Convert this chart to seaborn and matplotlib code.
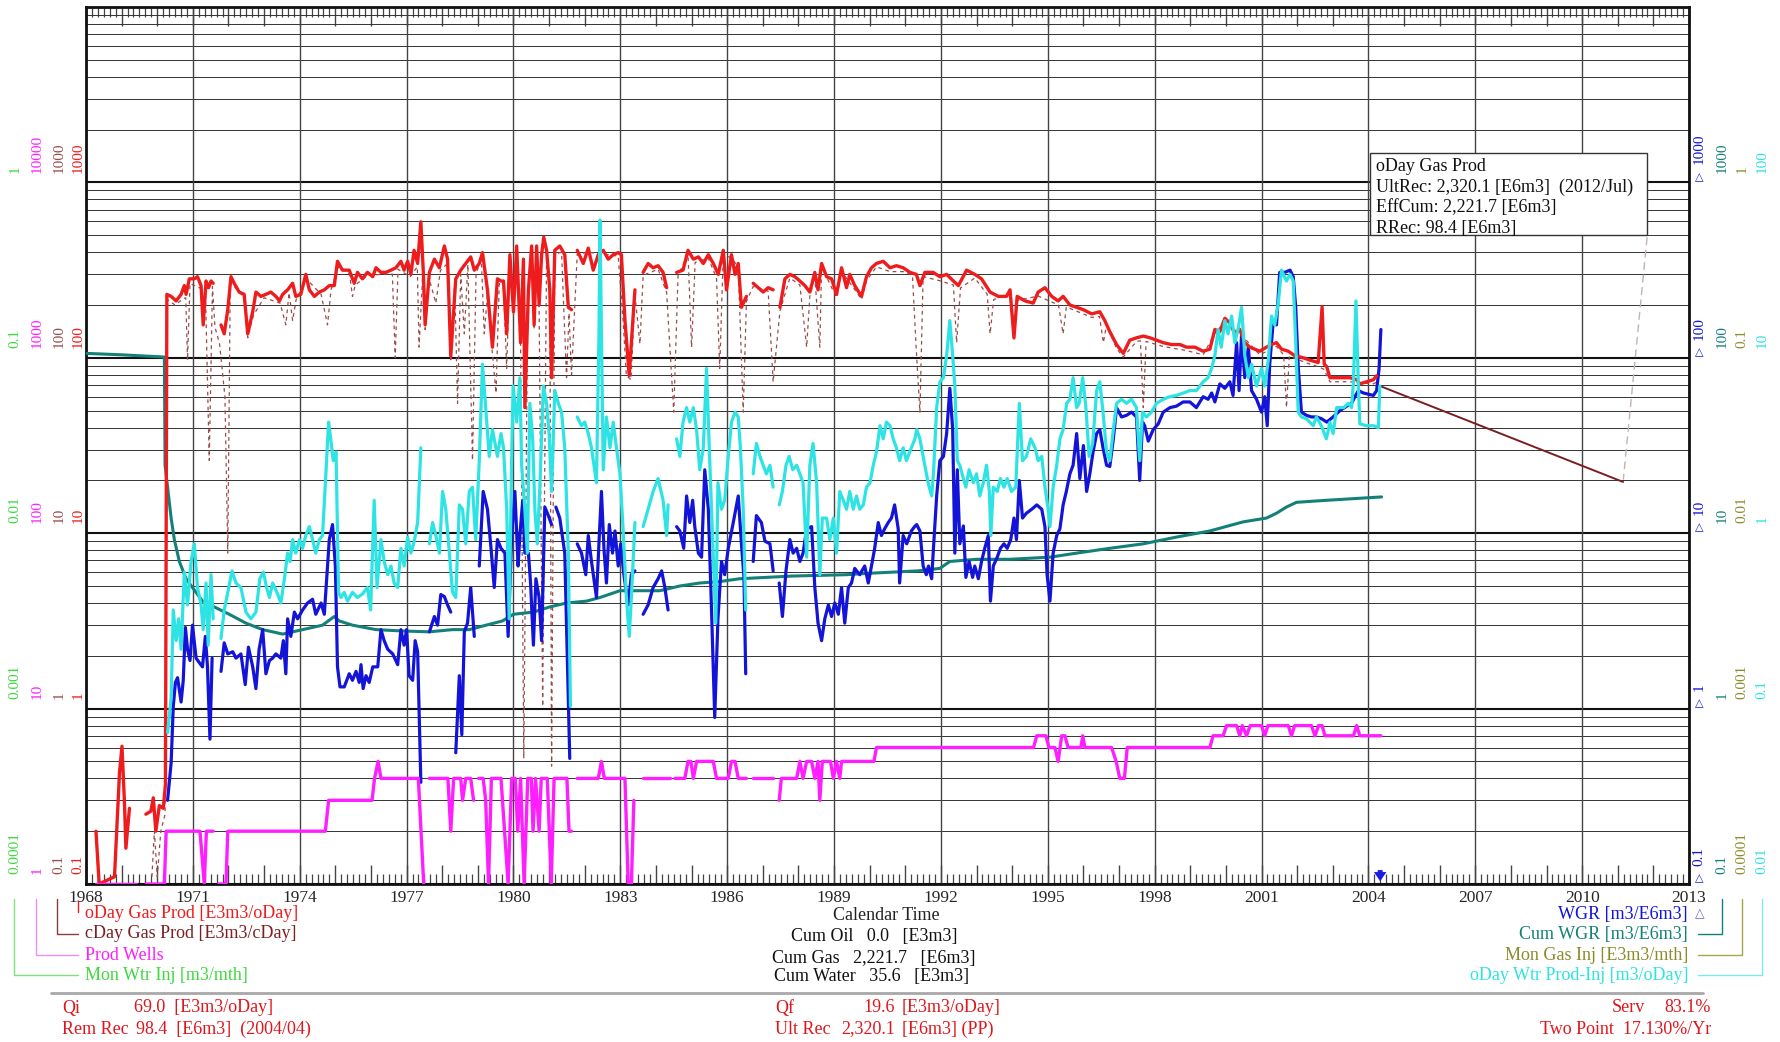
import numpy as np
import pandas as pd
import matplotlib
matplotlib.use("Agg")
import matplotlib.pyplot as plt
import matplotlib.ticker as mticker
import matplotlib.transforms as mtrans
from matplotlib.lines import Line2D
from matplotlib.patches import Rectangle
import seaborn as sns

sns.set_theme(style="white")
plt.rcParams["font.family"] = ["Liberation Serif", "DejaVu Sans"]

NaN = np.nan

# ---------------------------------------------------------------- data
# calendar-day gas rate [E3m3/oDay]; NaN marks months without production
oday_gas = [
    (1968.28, 0.20), (1968.37, 0.10), (1968.80, 0.11), (1968.94, 0.43), (1969.01, 0.61),
    (1969.08, 0.29), (1969.12, 0.16), (1969.22, 0.27), (1969.40, NaN),
    (1969.68, 0.25), (1969.82, 0.26), (1969.89, 0.31), (1969.96, 0.20), (1970.06, 0.28),
    (1970.17, 0.27), (1970.23, 0.37), (1970.27, 230), (1970.39, 224), (1970.53, 211),
    (1970.67, 230), (1970.76, 258), (1970.81, 230), (1970.90, 282), (1971.04, 282),
    (1971.13, 290), (1971.23, 258), (1971.29, 154), (1971.37, 274), (1971.44, 251),
    (1971.51, 274), (1971.57, 266), (1971.68, NaN),
    (1971.79, 154), (1971.88, 137), (1971.98, 188), (1972.07, 290), (1972.16, 266),
    (1972.30, 237), (1972.44, 230), (1972.54, 137), (1972.68, 183), (1972.77, 237),
    (1972.91, 224), (1973.05, 230), (1973.19, 237), (1973.33, 224), (1973.43, 211),
    (1973.52, 230), (1973.66, 244), (1973.80, 266), (1973.89, 224), (1974.03, 230),
    (1974.17, 299), (1974.27, 244), (1974.41, 224), (1974.55, 237), (1974.69, 244),
    (1974.83, 258), (1974.97, 258), (1975.06, 355), (1975.20, 316), (1975.39, 316),
    (1975.53, 266), (1975.62, 307), (1975.76, 282), (1975.90, 307), (1976.05, 290),
    (1976.14, 326), (1976.28, 307), (1976.42, 307), (1976.56, 316), (1976.70, 326),
    (1976.84, 355), (1976.93, 316), (1977.03, 355), (1977.12, 299), (1977.21, 410),
    (1977.31, 345), (1977.40, 596), (1977.47, 307), (1977.52, 154), (1977.64, 307),
    (1977.78, 365), (1977.92, 326), (1978.06, 434), (1978.15, 365), (1978.24, 102),
    (1978.38, 282), (1978.52, 316), (1978.66, 345), (1978.80, 376), (1978.90, 316),
    (1979.04, 345), (1979.13, 398), (1979.27, 244), (1979.41, 115), (1979.55, 282),
    (1979.65, 274), (1979.72, 274), (1979.81, 137), (1979.90, 387), (1980.00, 183),
    (1980.09, 434), (1980.20, 122), (1980.28, 365), (1980.32, 52), (1980.42, 244),
    (1980.51, 434), (1980.58, 154), (1980.65, 434), (1980.72, 200), (1980.79, 387),
    (1980.85, 487), (1980.93, 410), (1981.02, 244), (1981.07, 77), (1981.16, 410),
    (1981.30, 434), (1981.44, 387), (1981.54, 194), (1981.63, 188), (1981.71, NaN),
    (1981.79, 410), (1981.96, 345), (1982.10, 422), (1982.24, 316), (1982.38, 387),
    (1982.52, 410), (1982.66, 365), (1982.80, 387), (1982.94, 398), (1983.03, 387),
    (1983.13, 163), (1983.25, 79), (1983.36, 173), (1983.41, 244), (1983.52, NaN),
    (1983.64, 307), (1983.78, 345), (1983.92, 326), (1984.06, 335), (1984.20, 307),
    (1984.30, 251), (1984.44, NaN),
    (1984.58, 307), (1984.76, 316), (1984.90, 410), (1985.05, 365), (1985.19, 376),
    (1985.33, 345), (1985.47, 387), (1985.61, 345), (1985.75, 299), (1985.89, 410),
    (1985.98, 244), (1986.12, 387), (1986.22, 299), (1986.31, 345), (1986.40, 194),
    (1986.54, 224), (1986.63, NaN),
    (1986.73, 266), (1986.87, 251), (1987.01, 237), (1987.15, 251), (1987.29, 244),
    (1987.38, NaN),
    (1987.48, 194), (1987.62, 282), (1987.76, 299), (1987.90, 290), (1988.04, 274),
    (1988.18, 258), (1988.32, 237), (1988.46, 307), (1988.55, 244), (1988.65, 345),
    (1988.79, 290), (1988.93, 282), (1989.07, 230), (1989.21, 326), (1989.35, 251),
    (1989.44, 299), (1989.58, 258), (1989.77, 224), (1989.91, 290), (1990.05, 326),
    (1990.19, 345), (1990.38, 355), (1990.57, 326), (1990.75, 335), (1990.94, 326),
    (1991.13, 307), (1991.31, 299), (1991.41, 258), (1991.55, 307), (1991.78, 307),
    (1991.97, 290), (1992.16, 299), (1992.35, 274), (1992.49, 258), (1992.72, 316),
    (1992.95, 299), (1993.14, 282), (1993.38, 237), (1993.61, 224), (1993.84, 224),
    (1993.94, 244), (1994.05, 130), (1994.14, 224), (1994.36, 211), (1994.59, 205),
    (1994.73, 237), (1994.92, 251), (1995.11, 224), (1995.29, 211), (1995.43, 224),
    (1995.62, 200), (1995.81, 194), (1996.00, 188), (1996.23, 178), (1996.46, 183),
    (1996.60, 163), (1996.74, 141), (1996.93, 119), (1997.12, 106), (1997.30, 126),
    (1997.49, 130), (1997.68, 133), (1997.87, 130), (1998.05, 126), (1998.24, 122),
    (1998.47, 119), (1998.71, 119), (1998.89, 115), (1999.13, 115), (1999.36, 109),
    (1999.55, 112), (1999.69, 145), (1999.83, 141), (1999.97, 168), (2000.11, 158),
    (2000.25, 137), (2000.39, 145), (2000.53, 122), (2000.67, 115), (2000.81, 112),
    (2000.95, 109), (2001.14, 115), (2001.28, 119), (2001.42, 122), (2001.56, 112),
    (2001.75, 109), (2001.93, 103), (2002.17, 100), (2002.36, 97), (2002.59, 94),
    (2002.70, 195), (2002.76, 92), (2002.83, 89), (2002.92, 77), (2003.11, 77),
    (2003.30, 77), (2003.48, 77), (2003.67, 75), (2003.76, 71), (2003.95, 73),
    (2004.14, 75), (2004.23, 79),
]

# calendar-day gas rate [E3m3/cDay]
cday_gas = [
    (1969.85, 0.11), (1969.92, 0.20), (1970.00, 0.11), (1970.10, 0.20), (1970.22, 0.25),
    (1970.28, 215), (1970.50, 200), (1970.70, 215), (1970.80, 220), (1970.85, 97),
    (1970.92, 265), (1971.20, 250), (1971.35, 255), (1971.46, 26), (1971.55, 255),
    (1971.62, 150), (1971.75, 120), (1971.90, 60), (1971.98, 7.7), (1972.05, 270),
    (1972.45, 220), (1972.54, 130), (1972.70, 175), (1973.00, 220), (1973.45, 205),
    (1973.61, 154), (1973.70, 235), (1973.80, 163), (1973.90, 215), (1974.20, 280),
    (1974.60, 230), (1974.78, 154), (1974.88, 245), (1975.10, 335), (1975.40, 300),
    (1975.48, 224), (1975.56, 260), (1975.90, 295), (1976.40, 300), (1976.60, 300),
    (1976.68, 100), (1976.76, 320), (1977.10, 290), (1977.30, 330), (1977.35, 115),
    (1977.45, 295), (1977.52, 145), (1977.62, 290), (1977.82, 205), (1977.95, 315),
    (1978.15, 345), (1978.24, 95), (1978.35, 265), (1978.43, 55), (1978.52, 300),
    (1978.62, 137), (1978.72, 340), (1978.85, 26), (1978.95, 305), (1979.10, 360),
    (1979.18, 137), (1979.27, 230), (1979.41, 105), (1979.51, 63), (1979.60, 265),
    (1979.72, 255), (1979.81, 87), (1979.90, 365), (1980.00, 175), (1980.09, 410),
    (1980.20, 115), (1980.29, 0.52), (1980.40, 230), (1980.51, 410), (1980.58, 145),
    (1980.65, 400), (1980.72, 190), (1980.82, 1.03), (1980.93, 390), (1981.02, 230),
    (1981.07, 0.47), (1981.16, 390), (1981.35, 400), (1981.49, 77), (1981.56, 180),
    (1981.63, 80), (1981.79, 390), (1982.10, 400), (1982.50, 390), (1982.94, 380),
    (1983.08, 160), (1983.17, 79), (1983.30, 75), (1983.41, 230), (1983.55, 120),
    (1983.64, 295), (1984.06, 320), (1984.30, 235), (1984.50, 49), (1984.62, 295),
    (1984.90, 390), (1985.00, 115), (1985.10, 350), (1985.47, 370), (1985.70, 285),
    (1985.79, 87), (1985.89, 390), (1986.12, 370), (1986.31, 330), (1986.45, 49),
    (1986.54, 210), (1986.73, 255), (1987.15, 240), (1987.29, 73), (1987.48, 185),
    (1987.76, 285), (1988.04, 260), (1988.23, 115), (1988.32, 225), (1988.46, 290),
    (1988.60, 115), (1988.65, 330), (1989.07, 220), (1989.21, 310), (1989.58, 245),
    (1989.77, 215), (1989.91, 275), (1990.19, 330), (1990.57, 310), (1990.94, 310),
    (1991.20, 295), (1991.31, 109), (1991.41, 49), (1991.50, 290), (1991.97, 275),
    (1992.35, 260), (1992.44, 122), (1992.55, 250), (1992.95, 285), (1993.30, 230),
    (1993.38, 137), (1993.48, 215), (1993.94, 232), (1994.05, 125), (1994.14, 212),
    (1994.73, 225), (1995.30, 200), (1995.43, 137), (1995.52, 195), (1996.23, 170),
    (1996.45, 172), (1996.56, 122), (1996.65, 155), (1996.93, 113), (1997.12, 101),
    (1997.49, 124), (1997.60, 125), (1997.68, 52), (1997.76, 124), (1998.24, 116),
    (1998.89, 110), (1999.36, 104), (1999.69, 138), (1999.97, 160), (2000.39, 138),
    (2000.95, 104), (2001.42, 116), (2001.62, 104), (2001.70, 52), (2001.78, 102),
    (2002.36, 92), (2002.59, 89), (2002.75, 86), (2002.92, 73), (2003.48, 73),
    (2004.14, 71), (2004.30, 74),
]

# producing well count
prod_wells = [
    (1968.28, 1), (1969.40, 1), (1969.55, NaN), (1969.69, 1), (1970.20, 1), (1970.25, 2),
    (1971.20, 2), (1971.32, 1), (1971.38, 2), (1971.57, 2), (1971.66, NaN), (1971.73, 1),
    (1971.93, 1), (1971.98, 2), (1974.72, 2), (1974.81, 3), (1976.03, 3), (1976.10, 4),
    (1976.20, 5), (1976.28, 4), (1977.33, 4), (1977.48, 1), (1977.55, NaN), (1977.64, 4),
    (1978.16, 4), (1978.24, 2), (1978.32, 4), (1978.52, 4), (1978.57, 3), (1978.66, 4),
    (1978.80, 4), (1978.88, 3), (1978.94, NaN), (1979.02, 4), (1979.15, 4), (1979.22, 3),
    (1979.30, 1), (1979.38, 4), (1979.65, 4), (1979.85, 1), (1979.95, 4), (1980.05, 4),
    (1980.12, 2), (1980.20, 4), (1980.30, 1), (1980.40, 4), (1980.50, 4), (1980.55, 2),
    (1980.62, 4), (1980.72, 2), (1980.78, 4), (1980.95, 4), (1981.06, 1), (1981.14, 4),
    (1981.50, 4), (1981.56, 2), (1981.63, 2), (1981.71, NaN), (1981.79, 4), (1982.38, 4),
    (1982.47, 5), (1982.55, 4), (1983.13, 4), (1983.22, 1), (1983.31, 1), (1983.38, 3),
    (1983.50, NaN), (1983.64, 4), (1984.39, 4), (1984.46, NaN), (1984.53, 4), (1984.81, 4),
    (1984.90, 5), (1984.98, 5), (1985.05, 4), (1985.14, 5), (1985.61, 5), (1985.70, 4),
    (1986.03, 4), (1986.12, 5), (1986.22, 5), (1986.31, 4), (1986.54, 4), (1986.62, NaN),
    (1986.73, 4), (1987.29, 4), (1987.38, NaN), (1987.46, 3), (1987.52, 4), (1987.95, 4),
    (1988.04, 5), (1988.13, 4), (1988.23, 5), (1988.37, 5), (1988.46, 4), (1988.55, 5),
    (1988.60, 3), (1988.67, 5), (1988.90, 5), (1988.98, 4), (1989.07, 5), (1989.16, 4),
    (1989.21, 5), (1990.12, 5), (1990.19, 6), (1994.60, 6), (1994.69, 7), (1994.95, 7),
    (1995.03, 6), (1995.20, 6), (1995.29, 5), (1995.39, 7), (1995.48, 7), (1995.57, 6),
    (1995.93, 6), (1995.98, 7), (1996.04, 6), (1996.79, 6), (1996.92, 5), (1997.02, 4),
    (1997.15, 4), (1997.23, 6), (1999.55, 6), (1999.64, 7), (1999.92, 7), (2000.02, 8),
    (2000.30, 8), (2000.39, 7), (2000.46, 8), (2000.58, 7), (2000.68, 8), (2001.00, 8),
    (2001.09, 7), (2001.18, 8), (2001.75, 8), (2001.84, 7), (2001.93, 8), (2002.40, 8),
    (2002.50, 7), (2002.60, 8), (2002.70, 8), (2002.78, 7), (2003.58, 7), (2003.67, 8),
    (2003.76, 7), (2004.35, 7),
]

# water-gas ratio [m3/E6m3]
wgr = [
    (1970.29, 0.30), (1970.39, 0.49), (1970.45, 1.03), (1970.51, 1.41), (1970.57, 1.50),
    (1970.67, 1.09), (1970.73, 1.45), (1970.79, 2.9), (1970.85, 2.18), (1970.92, 1.88),
    (1970.99, 2.99), (1971.09, 1.94), (1971.18, 1.83), (1971.27, 1.73), (1971.35, 2.58),
    (1971.41, 1.73), (1971.48, 0.67), (1971.54, 1.94), (1971.66, NaN),
    (1971.79, 1.63), (1971.88, 2.37), (1971.98, 2.05), (1972.12, 2.11), (1972.21, 1.94),
    (1972.35, 2.05), (1972.47, 1.37), (1972.56, 2.24), (1972.68, 1.73), (1972.77, 1.30),
    (1972.86, 2.18), (1972.96, 2.82), (1973.05, 1.58), (1973.15, 1.88), (1973.24, 1.94),
    (1973.33, 2.05), (1973.47, 1.94), (1973.54, 2.44), (1973.61, 1.58), (1973.66, 3.25),
    (1973.75, 2.58), (1973.85, 3.55), (1973.94, 3.25), (1974.08, 3.65), (1974.22, 4.0),
    (1974.36, 4.2), (1974.45, 3.45), (1974.60, 4.0), (1974.69, 3.45), (1974.83, 9.2),
    (1974.92, 11.2), (1975.00, 6.5), (1975.06, 1.73), (1975.13, 1.33), (1975.25, 1.33),
    (1975.39, 1.58), (1975.48, 1.45), (1975.58, 1.63), (1975.67, 1.41), (1975.72, 1.78),
    (1975.78, 1.30), (1975.86, 1.54), (1975.95, 1.41), (1976.05, 1.73), (1976.19, 1.73),
    (1976.28, 2.82), (1976.37, 2.44), (1976.47, 2.18), (1976.61, 2.05), (1976.75, 1.78),
    (1976.84, 2.82), (1976.93, 2.30), (1977.00, 2.82), (1977.07, 1.54), (1977.17, 1.45),
    (1977.24, 2.44), (1977.31, 2.11), (1977.40, 0.38), (1977.52, NaN),
    (1977.64, 2.74), (1977.78, 3.35), (1977.87, 2.99), (1977.96, 4.47), (1978.06, 4.35),
    (1978.15, 3.9), (1978.24, 3.55), (1978.31, NaN),
    (1978.38, 0.56), (1978.48, 1.54), (1978.55, 0.71), (1978.62, 2.74), (1978.71, 3.07),
    (1978.80, 4.9), (1978.90, 2.58), (1978.97, NaN),
    (1979.04, 6.5), (1979.15, 17.3), (1979.27, 13.7), (1979.37, 8.2), (1979.46, 4.9),
    (1979.55, 9.2), (1979.65, 8.2), (1979.76, 7.7), (1979.85, 2.58), (1979.95, 9.7),
    (1980.04, 17.3), (1980.13, 6.5), (1980.18, 9.7), (1980.26, 15.4), (1980.32, 7.7),
    (1980.42, 7.7), (1980.48, 5.2), (1980.56, 2.3), (1980.63, 5.5), (1980.72, 4.3),
    (1980.79, 2.44), (1980.88, 14.1), (1980.98, 12.6), (1981.07, 11.2), (1981.13, NaN),
    (1981.19, 14.1), (1981.30, 12.2), (1981.44, 7.7), (1981.58, 0.52), (1981.68, NaN),
    (1981.79, 8.7), (1981.91, 7.7), (1982.03, 5.8), (1982.10, 9.7), (1982.19, 6.9),
    (1982.33, 4.3), (1982.41, 9.7), (1982.47, 17.3), (1982.54, 8.2), (1982.61, 5.2),
    (1982.69, 11.2), (1982.78, 7.7), (1982.85, 10.3), (1982.94, 6.5), (1983.01, 8.7),
    (1983.10, 5.8), (1983.22, 3.9), (1983.31, 5.8), (1983.41, 6.1), (1983.52, NaN),
    (1983.64, 3.45), (1983.78, 3.9), (1983.92, 4.9), (1984.06, 5.5), (1984.16, 6.1),
    (1984.25, 4.9), (1984.34, 3.65), (1984.46, NaN),
    (1984.58, 10.9), (1984.67, 10.3), (1984.78, 8.2), (1984.86, 16.3), (1984.95, 11.5),
    (1985.03, 15.4), (1985.09, 10.9), (1985.19, 7.7), (1985.28, 7.3), (1985.37, 23.0),
    (1985.47, 13.7), (1985.56, 3.65), (1985.65, 0.89), (1985.74, 3.25), (1985.84, 6.9),
    (1985.93, 5.8), (1986.03, 8.2), (1986.17, 11.5), (1986.31, 16.3), (1986.40, 8.7),
    (1986.47, 5.6), (1986.52, 1.58), (1986.62, NaN),
    (1986.73, 6.9), (1986.82, 12.6), (1986.96, 11.5), (1987.06, 9.0), (1987.20, 8.7),
    (1987.29, 6.1), (1987.38, NaN),
    (1987.46, 5.2), (1987.55, 3.35), (1987.65, 6.1), (1987.76, 9.2), (1987.85, 7.7),
    (1987.95, 8.2), (1988.04, 6.9), (1988.13, 7.7), (1988.23, 10.6), (1988.37, 10.9),
    (1988.46, 4.9), (1988.55, 3.07), (1988.65, 2.44), (1988.74, 3.25), (1988.84, 3.9),
    (1988.93, 3.35), (1989.02, 4.0), (1989.12, 3.45), (1989.21, 4.9), (1989.30, 3.07),
    (1989.40, 4.9), (1989.49, 5.2), (1989.58, 6.3), (1989.72, 5.8), (1989.86, 6.5),
    (1989.96, 5.2), (1990.05, 6.5), (1990.14, 8.2), (1990.24, 11.5), (1990.33, 9.7),
    (1990.42, 10.6), (1990.52, 11.5), (1990.61, 12.2), (1990.70, 14.5), (1990.80, 10.6),
    (1990.84, 5.2), (1990.94, 9.7), (1991.04, 8.7), (1991.17, 10.3), (1991.26, 10.9),
    (1991.32, 11.2), (1991.41, 10.3), (1991.50, 6.5), (1991.59, 5.8), (1991.65, 6.5),
    (1991.74, 5.5), (1991.79, 8.2), (1991.88, 16.3), (1991.97, 25.9), (1992.07, 27.4),
    (1992.16, 37), (1992.25, 67), (1992.33, 39), (1992.39, 7.7), (1992.46, 23),
    (1992.53, 8.7), (1992.63, 11.0), (1992.70, 5.6), (1992.79, 6.9), (1992.89, 5.6),
    (1992.95, 6.5), (1993.05, 5.5), (1993.14, 6.9), (1993.23, 8.2), (1993.33, 9.7),
    (1993.39, 4.1), (1993.47, 6.5), (1993.58, 7.3), (1993.67, 8.2), (1993.77, 8.7),
    (1993.86, 8.2), (1993.96, 9.2), (1994.05, 12.2), (1994.12, 9.2), (1994.20, 20),
    (1994.29, 12.2), (1994.40, 13.0), (1994.55, 13.7), (1994.69, 14.5), (1994.83, 13.7),
    (1994.92, 10.9), (1994.98, 5.8), (1995.06, 4.1), (1995.15, 7.7), (1995.25, 9.7),
    (1995.34, 10.6), (1995.43, 14.5), (1995.52, 17.3), (1995.62, 21.8), (1995.71, 24.4),
    (1995.81, 37), (1995.90, 20.5), (1996.00, 31.6), (1996.09, 17.3), (1996.18, 21.8),
    (1996.27, 29), (1996.37, 37), (1996.46, 39), (1996.55, 30.7), (1996.65, 24.4),
    (1996.74, 24), (1996.84, 34.5), (1996.93, 52), (1997.07, 46), (1997.21, 47),
    (1997.35, 49), (1997.49, 46), (1997.58, 20), (1997.66, 43), (1997.72, 41),
    (1997.82, 33.5), (1997.96, 39), (1998.10, 42), (1998.24, 49), (1998.43, 52),
    (1998.61, 53), (1998.80, 56), (1998.99, 56), (1999.17, 52), (1999.36, 60),
    (1999.50, 58), (1999.60, 63), (1999.69, 56), (1999.83, 71), (1999.97, 67),
    (2000.11, 73), (2000.20, 61), (2000.30, 122), (2000.37, 65), (2000.44, 137),
    (2000.53, 77), (2000.63, 115), (2000.72, 65), (2000.86, 58), (2001.00, 49),
    (2001.09, 60), (2001.16, 41), (2001.23, 92), (2001.33, 163), (2001.42, 154),
    (2001.51, 307), (2001.65, 307), (2001.80, 316), (2001.89, 290), (2001.96, 194),
    (2002.03, 89), (2002.12, 49), (2002.26, 47), (2002.40, 46), (2002.54, 46),
    (2002.68, 45), (2002.83, 43), (2003.01, 46), (2003.20, 50), (2003.39, 53),
    (2003.53, 55), (2003.62, 60), (2003.72, 65), (2003.86, 63), (2004.00, 62),
    (2004.14, 61), (2004.23, 65), (2004.30, 87), (2004.35, 145),
]

# cumulative water-gas ratio [m3/E6m3]
cum_wgr = [
    (1968.00, 106), (1969.00, 104), (1970.20, 101), (1970.22, 24.4), (1970.29, 18.3),
    (1970.39, 12.2), (1970.48, 9.2), (1970.62, 6.9), (1970.81, 5.5), (1970.99, 4.9),
    (1971.27, 4.1), (1971.60, 3.8), (1972.02, 3.45), (1972.49, 3.07), (1972.96, 2.82),
    (1973.52, 2.66), (1974.08, 2.82), (1974.64, 2.99), (1974.97, 3.35), (1975.11, 3.16),
    (1975.48, 2.99), (1976.14, 2.82), (1976.89, 2.77), (1977.64, 2.74), (1978.29, 2.82),
    (1978.76, 2.82), (1979.23, 2.99), (1979.69, 3.16), (1980.00, 3.45), (1980.56, 3.55),
    (1981.02, 3.8), (1981.49, 4.0), (1982.05, 4.1), (1982.43, 4.3), (1982.99, 4.7),
    (1983.55, 4.7), (1984.11, 4.7), (1984.67, 5.0), (1985.23, 5.2), (1985.79, 5.3),
    (1986.35, 5.5), (1987.10, 5.6), (1987.85, 5.7), (1988.60, 5.75), (1989.35, 5.8),
    (1989.91, 5.9), (1990.66, 6.0), (1991.36, 6.1), (1991.97, 6.3), (1992.25, 6.9),
    (1993.00, 7.1), (1993.94, 7.1), (1995.06, 7.3), (1995.81, 7.7), (1996.74, 8.2),
    (1997.68, 8.7), (1998.61, 9.5), (1999.55, 10.3), (2000.48, 11.6), (2001.14, 12.2),
    (2001.42, 13.0), (2001.70, 14.1), (2001.98, 15.0), (2002.82, 15.4), (2004.37, 16.1),
]

# calendar-day water production minus injection [m3/oDay]
wtr_prod_inj = [
    (1970.29, 0.073), (1970.39, 0.115), (1970.45, 0.365), (1970.53, 0.244), (1970.60, 0.325),
    (1970.67, 0.218), (1970.76, 0.60), (1970.85, 0.39), (1970.95, 0.69), (1971.04, 0.87),
    (1971.13, 0.49), (1971.23, 0.39), (1971.29, 0.282), (1971.37, 0.52), (1971.43, 0.23),
    (1971.51, 0.58), (1971.57, 0.325), (1971.66, NaN),
    (1971.79, 0.251), (1971.88, 0.365), (1971.98, 0.46), (1972.10, 0.61), (1972.21, 0.52),
    (1972.35, 0.49), (1972.49, 0.355), (1972.63, 0.325), (1972.77, 0.355), (1972.88, 0.55),
    (1972.98, 0.60), (1973.07, 0.49), (1973.15, 0.43), (1973.24, 0.52), (1973.38, 0.45),
    (1973.47, 0.40), (1973.57, 0.55), (1973.66, 0.77), (1973.73, 0.69), (1973.80, 0.92),
    (1973.89, 0.77), (1973.99, 0.92), (1974.08, 0.82), (1974.17, 0.97), (1974.27, 1.09),
    (1974.36, 0.92), (1974.45, 0.77), (1974.55, 0.92), (1974.64, 0.97), (1974.74, 2.3),
    (1974.81, 4.3), (1974.87, 3.45), (1974.94, 2.59), (1975.02, 2.9), (1975.09, 0.46),
    (1975.16, 0.43), (1975.25, 0.46), (1975.34, 0.41), (1975.48, 0.46), (1975.62, 0.43),
    (1975.76, 0.45), (1975.90, 0.49), (1975.99, 0.365), (1976.09, 1.54), (1976.17, 0.49),
    (1976.28, 0.92), (1976.37, 0.69), (1976.47, 0.58), (1976.56, 0.65), (1976.65, 0.52),
    (1976.75, 0.49), (1976.84, 0.82), (1976.93, 0.65), (1977.03, 0.95), (1977.12, 0.77),
    (1977.21, 0.89), (1977.31, 1.15), (1977.40, 3.07), (1977.52, NaN),
    (1977.64, 0.87), (1977.73, 1.15), (1977.82, 0.97), (1977.92, 0.77), (1978.01, 1.73),
    (1978.10, 1.37), (1978.20, 0.77), (1978.29, 0.46), (1978.38, 0.43), (1978.48, 1.45),
    (1978.57, 1.37), (1978.66, 0.87), (1978.76, 1.73), (1978.85, 1.83), (1978.94, 0.92),
    (1979.04, 2.59), (1979.13, 9.2), (1979.22, 5.2), (1979.32, 2.74), (1979.41, 3.9),
    (1979.55, 2.74), (1979.65, 3.7), (1979.72, 3.07), (1979.81, 1.37), (1979.88, 0.325),
    (1979.95, 2.74), (1979.99, 6.9), (1980.09, 4.3), (1980.18, 7.7), (1980.23, 2.44),
    (1980.32, 1.37), (1980.39, 0.77), (1980.46, 5.5), (1980.54, 3.45), (1980.60, 1.37),
    (1980.67, 0.87), (1980.74, 1.83), (1980.84, 6.9), (1980.93, 5.5), (1981.00, 3.7),
    (1981.07, 1.73), (1981.16, 6.5), (1981.26, 5.5), (1981.35, 4.9), (1981.44, 3.07),
    (1981.54, 0.77), (1981.60, 0.103), (1981.70, NaN),
    (1981.79, 4.6), (1981.91, 4.1), (1982.00, 4.3), (1982.10, 3.7), (1982.19, 3.07),
    (1982.33, 1.94), (1982.40, 13.7), (1982.43, 61), (1982.47, 13.7), (1982.52, 2.3),
    (1982.61, 4.6), (1982.71, 3.07), (1982.80, 4.3), (1982.89, 3.07), (1982.99, 2.18),
    (1983.08, 1.03), (1983.17, 0.43), (1983.25, 0.258), (1983.31, 0.43), (1983.41, 1.15),
    (1983.52, NaN),
    (1983.64, 1.09), (1983.78, 1.37), (1983.92, 1.73), (1984.06, 2.05), (1984.20, 1.54),
    (1984.30, 0.97), (1984.34, 1.45), (1984.46, NaN),
    (1984.58, 3.45), (1984.67, 2.74), (1984.76, 4.3), (1984.86, 5.2), (1984.95, 4.3),
    (1985.05, 5.2), (1985.14, 3.9), (1985.23, 2.3), (1985.33, 3.07), (1985.42, 8.7),
    (1985.51, 2.59), (1985.61, 0.73), (1985.68, 0.307), (1985.74, 1.94), (1985.84, 1.37),
    (1985.93, 1.54), (1986.03, 2.74), (1986.12, 4.3), (1986.22, 4.9), (1986.31, 4.6),
    (1986.37, 3.07), (1986.45, 1.37), (1986.52, 0.365), (1986.62, NaN),
    (1986.73, 2.18), (1986.82, 3.25), (1986.92, 2.74), (1987.01, 2.44), (1987.10, 2.18),
    (1987.20, 2.44), (1987.29, 1.83), (1987.38, NaN),
    (1987.46, 1.45), (1987.55, 1.73), (1987.65, 2.44), (1987.74, 2.74), (1987.84, 2.3),
    (1987.95, 2.44), (1988.04, 2.18), (1988.13, 1.94), (1988.23, 0.73), (1988.32, 2.44),
    (1988.41, 3.25), (1988.51, 1.94), (1988.60, 0.58), (1988.67, 1.22), (1988.79, 1.22),
    (1988.88, 0.92), (1988.98, 1.22), (1989.07, 0.77), (1989.16, 1.73), (1989.26, 1.54),
    (1989.35, 1.37), (1989.44, 1.73), (1989.54, 1.37), (1989.63, 1.63), (1989.72, 1.37),
    (1989.82, 1.45), (1989.91, 1.83), (1990.01, 1.94), (1990.10, 2.44), (1990.19, 2.9),
    (1990.29, 4.1), (1990.38, 3.45), (1990.47, 4.3), (1990.57, 4.1), (1990.66, 3.45),
    (1990.75, 3.07), (1990.84, 2.59), (1990.94, 3.07), (1991.03, 2.59), (1991.17, 3.07),
    (1991.27, 3.45), (1991.32, 3.9), (1991.41, 3.45), (1991.50, 2.74), (1991.64, 1.94),
    (1991.74, 1.63), (1991.79, 2.18), (1991.88, 5.2), (1991.97, 7.3), (1992.07, 7.7),
    (1992.16, 10.3), (1992.25, 16.3), (1992.33, 10.3), (1992.39, 6.9), (1992.46, 2.59),
    (1992.53, 2.44), (1992.63, 2.05), (1992.70, 1.83), (1992.79, 2.3), (1992.91, 1.94),
    (1993.00, 2.18), (1993.09, 1.63), (1993.19, 1.94), (1993.28, 2.44), (1993.36, 1.73),
    (1993.40, 0.97), (1993.47, 1.83), (1993.58, 1.73), (1993.67, 2.05), (1993.77, 1.83),
    (1993.86, 2.05), (1993.98, 1.73), (1994.10, 1.83), (1994.20, 5.5), (1994.29, 2.59),
    (1994.40, 2.74), (1994.52, 3.45), (1994.64, 3.07), (1994.73, 2.59), (1994.83, 2.74),
    (1994.92, 1.83), (1995.01, 1.37), (1995.06, 1.09), (1995.15, 1.83), (1995.25, 2.44),
    (1995.34, 3.45), (1995.43, 3.9), (1995.53, 5.5), (1995.62, 5.8), (1995.71, 7.7),
    (1995.81, 5.2), (1995.88, 5.5), (1995.98, 7.7), (1996.07, 5.2), (1996.16, 2.74),
    (1996.26, 3.25), (1996.37, 6.5), (1996.46, 7.3), (1996.55, 4.9), (1996.65, 2.9),
    (1996.74, 2.59), (1996.84, 3.9), (1996.93, 5.5), (1997.07, 5.8), (1997.21, 5.5),
    (1997.35, 5.8), (1997.49, 5.2), (1997.58, 2.59), (1997.66, 4.9), (1997.77, 4.6),
    (1997.91, 4.9), (1998.05, 5.5), (1998.24, 5.8), (1998.43, 6.0), (1998.61, 6.1),
    (1998.80, 6.3), (1998.99, 6.5), (1999.17, 6.5), (1999.36, 7.3), (1999.50, 7.7),
    (1999.60, 8.7), (1999.69, 10.3), (1999.78, 14.5), (1999.87, 11.5), (1999.97, 16.3),
    (2000.06, 13.7), (2000.16, 17.3), (2000.25, 12.2), (2000.34, 14.5), (2000.44, 19.4),
    (2000.53, 10.3), (2000.63, 7.7), (2000.72, 9.2), (2000.86, 6.9), (2001.00, 8.7),
    (2001.09, 6.9), (2001.19, 9.7), (2001.28, 17.3), (2001.37, 15.4), (2001.47, 20.5),
    (2001.56, 31.6), (2001.70, 27.4), (2001.80, 29.9), (2001.89, 27.4), (2001.96, 12.2),
    (2002.03, 4.9), (2002.12, 4.6), (2002.26, 4.5), (2002.35, 4.3), (2002.45, 4.1),
    (2002.54, 4.6), (2002.68, 4.1), (2002.82, 3.45), (2002.92, 4.3), (2003.01, 3.7),
    (2003.11, 5.2), (2003.30, 5.2), (2003.44, 5.5), (2003.53, 5.2), (2003.58, 7.3),
    (2003.65, 21.1), (2003.72, 6.9), (2003.76, 4.2), (2003.95, 4.1), (2004.14, 4.1),
    (2004.28, 4.0), (2004.32, 6.9),
]

# decline forecast: (date, rate) at Qi and Qf
forecast = [(2004.33, 69.0), (2011.15, 19.6)]

# value labels on the decade lines, outermost column first
decade_lines = [1000, 100, 10, 1, 0.1]
lbl_mon_wtr_inj = ["1", "0.1", "0.01", "0.001", "0.0001"]
lbl_prod_wells = ["10000", "1000", "100", "10", "1"]
lbl_cday_gas = ["1000", "100", "10", "1", "0.1"]
lbl_oday_gas = ["1000", "100", "10", "1", "0.1"]
lbl_wgr = ["1000", "100", "10", "1", "0.1"]
lbl_cum_wgr = ["1000", "100", "10", "1", "0.1"]
lbl_mon_gas_inj = ["1", "0.1", "0.01", "0.001", "0.0001"]
lbl_wtr_prod_inj = ["100", "10", "1", "0.1", "0.01"]
year_ticks = list(range(1968, 2014))

# ---------------------------------------------------------------- colours
C_RED = "#ee1c1c"
C_CDAY = "#9a4c4c"
C_FC = "#7a1f1f"
C_MAG = "#ff1eff"
C_GREEN = "#3fd93f"
C_BLUE = "#1414d8"
C_TEAL = "#13807a"
C_OLIVE = "#8c8c2c"
C_CYAN = "#2ee3e3"

W, H = 1780, 1042


def fx(x):
    return x / W


def fy(y):
    return 1 - y / H


def frame_of(pairs):
    t = np.array([p[0] for p in pairs], float)
    v = np.array([p[1] for p in pairs], float)
    seg = np.cumsum(np.isnan(v))
    df = pd.DataFrame({"t": t, "v": v, "seg": seg})
    return df.dropna()


def draw(axis, pairs, color, lw, **kw):
    sns.lineplot(data=frame_of(pairs), x="t", y="v", units="seg", estimator=None,
                 sort=False, color=color, lw=lw, ax=axis, legend=False, **kw)


fig = plt.figure(figsize=(W / 100, H / 100), dpi=100)
L, R, T, B = 86, 1689, 7, 884
ax = fig.add_axes([fx(L), fy(B), (R - L) / W, (B - T) / H])
ax.set_yscale("log")
ax.set_ylim(0.1, 10000)

ax_w = ax.twinx()      # well count scale
ax_w.set_yscale("log")
ax_w.set_ylim(1, 100000)
ax_c = ax.twinx()      # water prod-inj scale
ax_c.set_yscale("log")
ax_c.set_ylim(0.01, 1000)
for a in (ax_w, ax_c):
    a.axis("off")

# grid
ax.set_axisbelow(True)
ax.yaxis.set_major_locator(mticker.LogLocator(base=10, numticks=12))
ax.yaxis.set_minor_locator(mticker.LogLocator(base=10, subs=np.arange(2, 10), numticks=100))
ax.yaxis.grid(True, which="major", color="#111111", lw=1.5)
ax.yaxis.grid(True, which="minor", color="#333333", lw=0.7)
ax.tick_params(axis="y", which="both", length=0, labelleft=False, labelright=False)
for yr in year_ticks[::3]:
    ax.axvline(yr, color="#444444", lw=1.0, zorder=0.6)

# series
draw(ax, cday_gas, C_CDAY, 0.9, linestyle=(0, (3, 3)), zorder=2)
draw(ax, cum_wgr, C_TEAL, 2.2, zorder=3)
draw(ax, wgr, C_BLUE, 2.3, zorder=4)
draw(ax, oday_gas, C_RED, 2.4, zorder=5)
draw(ax, forecast, C_FC, 1.4, zorder=5)
draw(ax_c, wtr_prod_inj, C_CYAN, 2.3, zorder=3)
draw(ax_w, prod_wells, C_MAG, 2.4, zorder=3)

for a in (ax, ax_w, ax_c):
    a.set_xlabel("")
    a.set_ylabel("")
ax.set_xlim(1968, 2013)

# x ticks: yearly, 2-month minor, labels every third year
ax.xaxis.set_major_locator(mticker.FixedLocator(year_ticks))
ax.xaxis.set_minor_locator(mticker.MultipleLocator(1 / 6))
ax.xaxis.set_major_formatter(mticker.FuncFormatter(
    lambda x, p: f"{int(round(x))}" if int(round(x - 1968)) % 3 == 0 else ""))
ax.tick_params(axis="x", which="major", direction="in", length=14, width=1.0,
               color="#444444", top=True, bottom=True, labelsize=12.5, pad=4)
ax.tick_params(axis="x", which="minor", direction="in", length=7, width=0.9,
               color="#444444", top=True, bottom=True)
for sp in ax.spines.values():
    sp.set_color("#111111")
    sp.set_linewidth(2.0)

# forecast annotation box and leader
box_x0, box_x1, box_y0, box_y1 = 0.801, 0.974, 0.740, 0.8335
ax.add_patch(Rectangle((box_x0, box_y0), box_x1 - box_x0, box_y1 - box_y0,
                       transform=ax.transAxes, facecolor="white", edgecolor="#333333",
                       lw=1.0, zorder=8))
box_lines = ["oDay Gas Prod", "UltRec: 2,320.1 [E6m3]  (2012/Jul)",
             "EffCum: 2,221.7 [E6m3]", "RRec: 98.4 [E6m3]"]
for i, s in enumerate(box_lines):
    ax.text(0.805, 0.8176 - i * 0.0232, s, transform=ax.transAxes, fontsize=13,
            color="#111111", va="center", ha="left", zorder=9)
ax.annotate("", xy=forecast[-1], xycoords="data", xytext=(box_x1, box_y0),
            textcoords="axes fraction",
            arrowprops=dict(arrowstyle="-", color="#c0b4b4", lw=1.0, ls=(0, (5, 4))),
            zorder=6)
ax.annotate("", xy=(forecast[0][0], 0.0), xycoords=("data", "axes fraction"),
            xytext=(forecast[0][0], 0.019), textcoords=("data", "axes fraction"),
            arrowprops=dict(arrowstyle="simple,head_length=0.55,head_width=0.75,tail_width=0.3",
                            color="#1a1ae6", lw=0), zorder=9, annotation_clip=False)

# decade value columns
lab_tr = mtrans.blended_transform_factory(fig.transFigure, ax.transData)
up8 = mtrans.ScaledTranslation(0, 7 / 72, fig.dpi_scale_trans)
up14 = mtrans.ScaledTranslation(0, 13 / 72, fig.dpi_scale_trans)
up3 = mtrans.ScaledTranslation(0, 4 / 72, fig.dpi_scale_trans)
columns = [
    (15, C_GREEN, lbl_mon_wtr_inj, up8),
    (37, C_MAG, lbl_prod_wells, up8),
    (59, C_CDAY, lbl_cday_gas, up8),
    (78, C_RED, lbl_oday_gas, up8),
    (1699, C_BLUE, lbl_wgr, up14),
    (1722, C_TEAL, lbl_cum_wgr, up8),
    (1742, C_OLIVE, lbl_mon_gas_inj, up8),
    (1762, C_CYAN, lbl_wtr_prod_inj, up8),
]
for xpix, col, labels, off in columns:
    for dec, s in zip(decade_lines, labels):
        ax.text(fx(xpix), dec, s, transform=lab_tr + off, rotation=90,
                rotation_mode="anchor", ha="left", va="center", fontsize=11,
                color=col, clip_on=False)
for dec in decade_lines:
    ax.text(fx(1699), dec, "\u25b3", transform=lab_tr + up3, ha="center", va="center",
            fontsize=8, color=C_BLUE, family="DejaVu Sans", clip_on=False)


def fig_line(xs, ys, color, lw=1.0):
    fig.add_artist(Line2D([fx(x) for x in xs], [fy(y) for y in ys], color=color, lw=lw))


def ftext(x, y, s, color, ha="left", **kw):
    fig.text(fx(x), fy(y), s, color=color, ha=ha, va="center", fontsize=13, **kw)


# left legend with brackets to the value columns
rows = [914, 934, 955, 975]
fig_line([78, 78], [901, 912], C_RED)
fig_line([57, 57, 78], [899, rows[1], rows[1]], "#8e3b3b")
fig_line([36, 36, 78], [899, rows[2], rows[2]], "#ef8cef")
fig_line([14, 14, 78], [899, rows[3], rows[3]], "#7fe27f")
ftext(85, rows[0], "oDay Gas Prod [E3m3/oDay]", C_RED)
ftext(85, rows[1], "cDay Gas Prod [E3m3/cDay]", "#7a1f22")
ftext(85, rows[2], "Prod Wells", C_MAG)
ftext(85, rows[3], "Mon Wtr Inj [m3/mth]", C_GREEN)

# right legend
fig_line([1722, 1722, 1698], [899, rows[1], rows[1]], C_TEAL)
fig_line([1742, 1742, 1698], [899, rows[2], rows[2]], "#a6a650")
fig_line([1762, 1762, 1698], [899, rows[3], rows[3]], "#7feaea")
ftext(1688, rows[0], "WGR [m3/E6m3]", C_BLUE, ha="right")
fig.text(fx(1700), fy(rows[0]), "\u25b3", color="#6a6ad8", ha="center", va="center",
         fontsize=9, family="DejaVu Sans")
ftext(1688, rows[1], "Cum WGR [m3/E6m3]", C_TEAL, ha="right")
ftext(1688, rows[2], "Mon Gas Inj [E3m3/mth]", C_OLIVE, ha="right")
ftext(1688, rows[3], "oDay Wtr Prod-Inj [m3/oDay]", C_CYAN, ha="right")

# centre block
ftext(886, 915, "Calendar Time", "#222222", ha="center")
ftext(874, 937, "Cum Oil   0.0   [E3m3]", "#111111", ha="center")
ftext(874, 958, "Cum Gas   2,221.7   [E6m3]", "#111111", ha="center")
ftext(872, 977, "Cum Water   35.6   [E3m3]", "#111111", ha="center")

# separator and forecast summary
fig_line([51, 1703], [993, 993], "#a8a8a8", lw=2.0)
C_FOOT = "#e0161c"
ftext(62, 1008, "Qi", C_FOOT)
ftext(134, 1008, "69.0  [E3m3/oDay]", C_FOOT)
ftext(62, 1029, "Rem Rec", C_FOOT)
ftext(136, 1029, "98.4  [E6m3]  (2004/04)", C_FOOT)
ftext(775, 1008, "Qf", C_FOOT)
ftext(895, 1008, "19.6", C_FOOT, ha="right")
ftext(902, 1008, "[E3m3/oDay]", C_FOOT)
ftext(775, 1029, "Ult Rec", C_FOOT)
ftext(895, 1029, "2,320.1", C_FOOT, ha="right")
ftext(902, 1029, "[E6m3] (PP)", C_FOOT)
ftext(1612, 1008, "Serv", C_FOOT)
ftext(1711, 1008, "83.1%", C_FOOT, ha="right")
ftext(1711, 1029, "Two Point  17.130%/Yr", C_FOOT, ha="right")

fig.savefig("out.png", dpi=100)
